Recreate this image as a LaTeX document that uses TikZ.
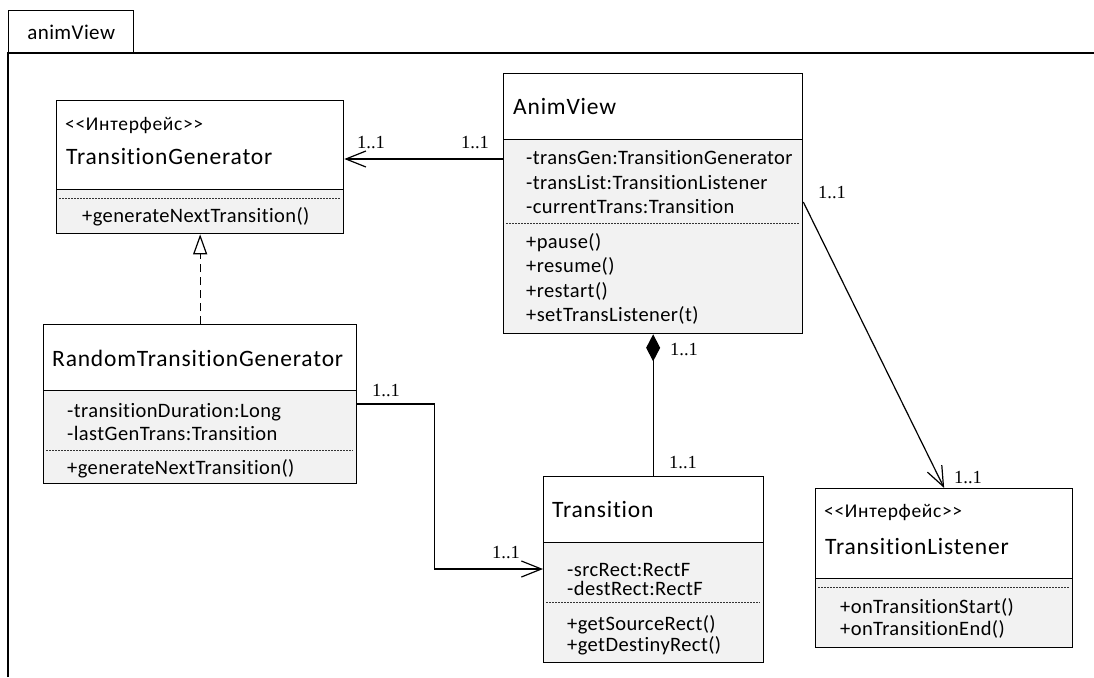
\documentclass[tikz,border=0pt]{standalone}
\usepackage{fontspec}
\setmainfont{Carlito}[Ligatures={TeX,NoCommon}]
\newfontfamily\multfont{Liberation Serif}
\usepackage{xcolor}
\usetikzlibrary{arrows.meta,positioning}

\definecolor{bodygray}{HTML}{F2F2F2}

\tikzset{
  framebox/.style={draw=black,line width=1.4pt},
  tabbox/.style={draw=black,line width=1.4pt,anchor=north west,inner sep=0pt,
    minimum width=125pt,minimum height=43pt,
    font=\fontsize{21}{21}\selectfont\addfontfeature{LetterSpace=2}},
  headbox/.style={draw=black,line width=1.3pt,fill=white,anchor=north west,inner sep=0pt},
  bodybox/.style={draw=black,line width=1.3pt,fill=bodygray,anchor=north west,inner sep=0pt},
  cname/.style={anchor=west,inner sep=0pt,text height=15pt,text depth=0pt,
    font=\fontsize{23.5}{23.5}\selectfont\addfontfeature{LetterSpace=3.5}},
  stereo/.style={anchor=west,inner sep=0pt,text height=12pt,text depth=0pt,
    font=\fontsize{19.5}{19.5}\selectfont\addfontfeature{LetterSpace=3.5}},
  member/.style={anchor=west,inner sep=0pt,text height=13pt,text depth=0pt,
    font=\fontsize{20.5}{20.5}\selectfont\addfontfeature{LetterSpace=2}},
  sepline/.style={draw=black!80,line width=0.8pt,dash pattern=on 2pt off 1pt},
  mult/.style={inner sep=0pt,text height=12.5pt,text depth=0pt,
    font=\multfont\fontsize{18.5}{18.5}\selectfont},
  assoc/.style={line width=1.2pt,-{Straight Barb[length=20pt,width=16pt]}},
  realize/.style={line width=1.2pt,dash pattern=on 8pt off 5pt,
    -{Triangle[open,length=20pt,width=14pt,fill=white]}},
  compose/.style={line width=1.2pt,{Diamond[length=27pt,width=14pt]}-}
}

\begin{document}
\begin{tikzpicture}[x=1pt,y=-1pt]
\useasboundingbox (0,0) rectangle (1094,677);

% package frame
\draw[framebox] (8,677) -- (8,53) -- (1094,53);
\node[tabbox] (tab) at (8,10) {animView};

% TransitionGenerator
\node[headbox,minimum width=287pt,minimum height=89pt] (tg) at (56,100) {};
\node[bodybox,minimum width=287pt,minimum height=44pt] (tgbody) at (56,189) {};
\node[stereo] (tgst) at (65,124) {<{}<Интерфейс>{}>};
\node[cname] (tgname) at (66,157) {TransitionGenerator};
\draw[sepline] (59,198) -- (340,198);
\node[member] (tgm1) at (82,216) {+generateNextTransition()};

% AnimView
\node[headbox,minimum width=299pt,minimum height=66pt] (av) at (503,73) {};
\node[bodybox,minimum width=299pt,minimum height=194pt] (avbody) at (503,139) {};
\node[cname] (avname) at (513,107) {AnimView};
\foreach \t [count=\i] in {-transGen:TransitionGenerator,
                            -transList:TransitionListener,
                            -currentTrans:Transition}
  \node[member] (ava\i) at (526,{158+24.5*(\i-1)}) {\t};
\draw[sepline] (506,223) -- (799,223);
\foreach \t [count=\i] in {+pause(),+resume(),+restart(),+setTransListener(t)}
  \node[member] (avm\i) at (526,{242+24.3*(\i-1)}) {\t};

% RandomTransitionGenerator
\node[headbox,minimum width=313pt,minimum height=66pt] (rtg) at (43,324) {};
\node[bodybox,minimum width=313pt,minimum height=93pt] (rtgbody) at (43,390) {};
\node[cname] (rtgname) at (52,359) {RandomTransitionGenerator};
\node[member] (rtga1) at (67,411) {-transitionDuration:Long};
\node[member] (rtga2) at (67,434) {-lastGenTrans:Transition};
\draw[sepline] (46,450) -- (353,450);
\node[member] (rtgm1) at (67,468) {+generateNextTransition()};

% Transition
\node[headbox,minimum width=220pt,minimum height=66pt] (tr) at (543,476) {};
\node[bodybox,minimum width=220pt,minimum height=120pt] (trbody) at (543,542) {};
\node[cname] (trname) at (552,510) {Transition};
\node[member] (tra1) at (567,570) {-srcRect:RectF};
\node[member] (tra2) at (567,589) {-destRect:RectF};
\draw[sepline] (546,602) -- (760,602);
\node[member] (trm1) at (567,624) {+getSourceRect()};
\node[member] (trm2) at (567,645) {+getDestinyRect()};

% TransitionListener
\node[headbox,minimum width=257pt,minimum height=90pt] (tl) at (815,488) {};
\node[bodybox,minimum width=257pt,minimum height=69pt] (tlbody) at (815,578) {};
\node[stereo] (tlst) at (824,511) {<{}<Интерфейс>{}>};
\node[cname] (tlname) at (825,547) {TransitionListener};
\draw[sepline] (818,587) -- (1069,587);
\node[member] (tlm1) at (840,607) {+onTransitionStart()};
\node[member] (tlm2) at (840,629) {+onTransitionEnd()};

% connectors
\draw[assoc] ([yshift=-20pt]avbody.north west) -- ([yshift=-20pt]avbody.north west -| tg.east);
\draw[realize] (rtg.north) -- (tgbody.south);
\draw[compose] (avbody.south) -- (avbody.south |- tr.north);
\draw[assoc] ([yshift=-63pt]avbody.north east) -- (tl.north);
\draw[assoc] ([yshift=-14pt]rtgbody.north east) -- ++(77,0) |- ([yshift=-27pt]trbody.north west);

% multiplicities
\node[mult] (m1) at (371,142) {1..1};
\node[mult] (m2) at (475,142) {1..1};
\node[mult] (m3) at (832,192) {1..1};
\node[mult] (m4) at (968,477) {1..1};
\node[mult] (m5) at (684,349) {1..1};
\node[mult] (m6) at (683,462) {1..1};
\node[mult] (m7) at (386,390) {1..1};
\node[mult] (m8) at (506,552) {1..1};
\end{tikzpicture}
\end{document}
